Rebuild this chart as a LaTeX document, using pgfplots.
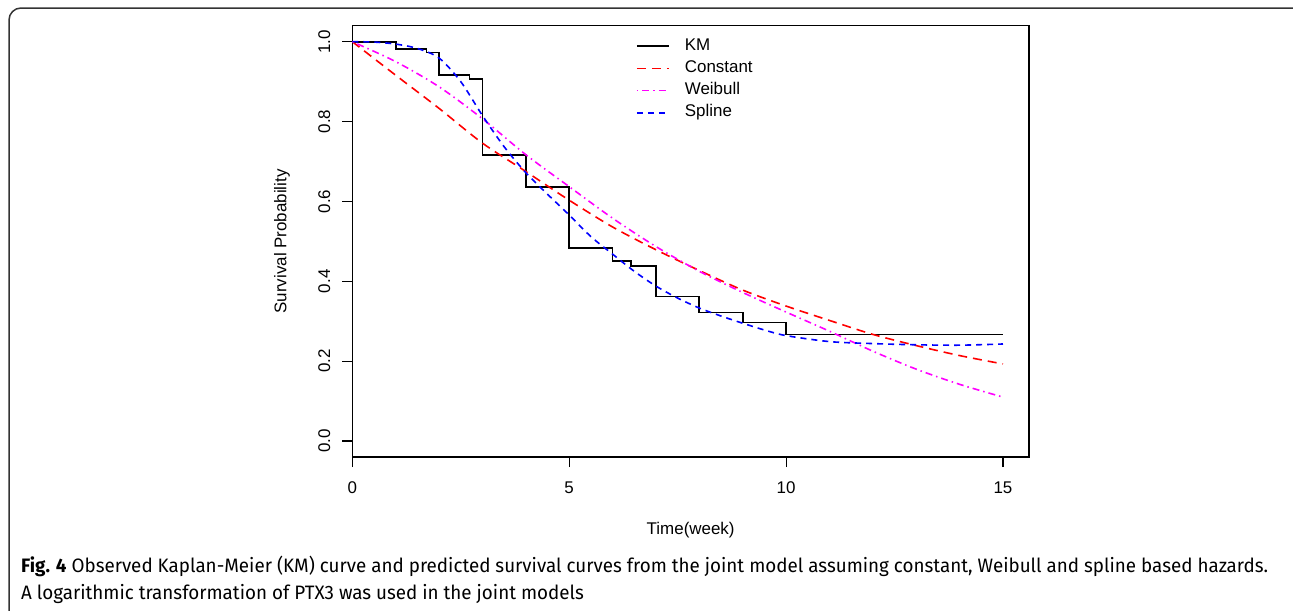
\documentclass[border=0pt]{standalone}
\usepackage{pgfplots}
\pgfplotsset{compat=1.18}
\usepackage{graphicx}
\usepackage{fontspec}
\setmainfont{Liberation Sans}
\newfontfamily\capfont{Fira Sans}
\newsavebox\capA
\newsavebox\capB
\definecolor{rred}{RGB}{255,0,0}
\definecolor{rmag}{RGB}{255,0,255}
\definecolor{rblue}{RGB}{0,0,255}

\pgfplotstableread{
t s
0 1.0
1 0.982
1.71 0.973
2 0.917
2.70 0.907
3 0.717
4 0.637
5 0.483
6 0.451
6.42 0.439
7 0.362
8 0.322
9 0.297
10 0.267
15 0.267
}\kmdata

\pgfplotstableread{
t s
0 1.000
1 0.916
2 0.833
3 0.746
4 0.675
5 0.603
6 0.536
7 0.479
8 0.427
9 0.378
10 0.338
11 0.302
12 0.267
13 0.239
14 0.214
15 0.193
}\constdata

\pgfplotstableread{
t s
0 1.000
1 0.950
2 0.887
3 0.807
4 0.717
5 0.637
6 0.558
7 0.487
8 0.425
9 0.372
10 0.323
11 0.275
12 0.225
13 0.180
14 0.142
15 0.110
}\weibdata

\pgfplotstableread{
t s
0 1.000
0.5 0.999
1 0.994
1.5 0.983
2 0.959
2.5 0.900
3 0.815
3.5 0.737
4 0.672
4.5 0.618
5 0.566
5.5 0.512
6 0.468
6.5 0.425
7 0.388
7.5 0.358
8 0.333
8.5 0.313
9 0.295
9.5 0.278
10 0.264
11 0.249
12 0.244
13 0.241
14 0.240
15 0.243
}\splinedata

\begin{document}
\sbox\capA{\capfont\fontsize{19.5}{24}\selectfont\textbf{Fig. 4} Observed Kaplan-Meier (KM) curve and predicted survival curves from the joint model assuming constant, Weibull and spline based hazards.}%
\sbox\capB{\capfont\fontsize{19.5}{24}\selectfont A logarithmic transformation of PTX3 was used in the joint models}%
\pgfmathsetmacro\sx{1251.68/\the\wd\capA}%
\begin{tikzpicture}
\path[use as bounding box] (0bp,0bp) rectangle (1293bp,-611bp);
\draw[line width=1.5bp, color=black!80] (9bp,-611bp) -- (9bp,-20bp) arc[start angle=180,end angle=90,radius=12bp] -- (1293bp,-8bp);
\node[anchor=base west, inner sep=0pt, text=black!90] at (21bp,-572.7bp) {\scalebox{\sx}[1]{\usebox\capA}};
\node[anchor=base west, inner sep=0pt, text=black!90] at (21bp,-599bp) {\scalebox{\sx}[1]{\usebox\capB}};
\begin{axis}[
  at={(352.3bp,-457bp)}, anchor=south west,
  scale only axis, width=676.7bp, height=431.3bp,
  xmin=0, xmax=15.6, ymin=-0.04, ymax=1.04,
  axis line style={line width=1.1bp, black},
  tick align=outside, tick pos=left,
  major tick length=10bp,
  every tick/.style={line width=1.1bp, black},
  xtick={0,5,10,15}, xticklabels={0,5,10,15},
  ytick={0,0.2,0.4,0.6,0.8,1.0}, yticklabels={0.0,0.2,0.4,0.6,0.8,1.0},
  font=\fontsize{17}{20}\selectfont,
  xticklabel style={yshift=-11.5bp},
  yticklabel style={xshift=-8.6bp, rotate=90, anchor=south},
  xlabel={Time(week)}, ylabel={Survival Probability},
  every axis x label/.style={at={(axis description cs:0.5,-0.1693)}, anchor=center},
  every axis y label/.style={at={(axis description cs:-0.1039,0.5)}, anchor=center, rotate=90},
  legend style={draw=none, fill=none, at={(axis cs:6.537,1.0155)}, anchor=north west,
    inner sep=0pt, row sep=0.8bp, column sep=15bp,
    nodes={inner sep=0pt, text height=14.5bp, text depth=6.83bp, anchor=west}},
  legend cell align=left,
  legend image code/.code={\draw[#1] (0bp,0bp) -- (32bp,0bp);},
]
\addplot[black, line width=1.8bp, const plot] table[x=t,y=s] {\kmdata};
\addlegendentry{KM}
\addplot[rred, line width=1.6bp, smooth, dash pattern=on 9bp off 6bp] table[x=t,y=s] {\constdata};
\addlegendentry{Constant}
\addplot[rmag, line width=1.6bp, smooth, dash pattern=on 1.5bp off 4bp on 7bp off 4bp] table[x=t,y=s] {\weibdata};
\addlegendentry{Weibull}
\addplot[rblue, line width=1.6bp, smooth, dash pattern=on 6bp off 5bp] table[x=t,y=s] {\splinedata};
\addlegendentry{Spline}
\end{axis}
\end{tikzpicture}
\end{document}
